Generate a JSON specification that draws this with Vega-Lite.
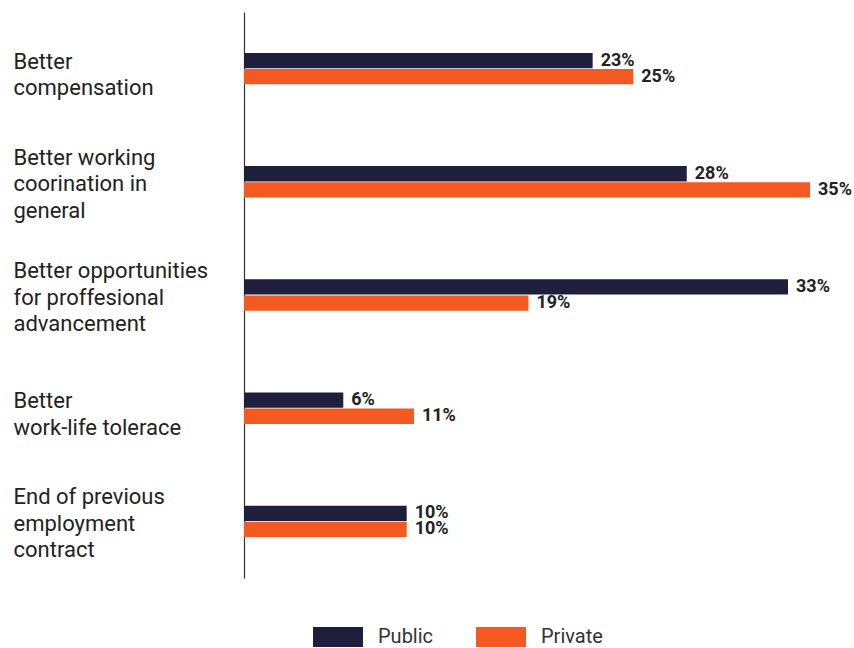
{
  "$schema": "https://vega.github.io/schema/vega-lite/v6.json",
  "width": 566,
  "height": 566,
  "autosize": {"type": "none"},
  "padding": {"left": 244, "top": 12, "right": 44, "bottom": 70},
  "background": "white",
  "config": {
    "view": {"stroke": null},
    "font": "Roboto"
  },
  "data": {
    "values": [
      {"reason": "Better|compensation", "sector": "Public", "value": 21.56, "label": "23%"},
      {"reason": "Better|compensation", "sector": "Private", "value": 24.07, "label": "25%"},
      {"reason": "Better working|coorination in|general", "sector": "Public", "value": 27.38, "label": "28%"},
      {"reason": "Better working|coorination in|general", "sector": "Private", "value": 35.0, "label": "35%"},
      {"reason": "Better opportunities|for proffesional|advancement", "sector": "Public", "value": 33.64, "label": "33%"},
      {"reason": "Better opportunities|for proffesional|advancement", "sector": "Private", "value": 17.59, "label": "19%"},
      {"reason": "Better|work-life tolerace", "sector": "Public", "value": 6.14, "label": "6%"},
      {"reason": "Better|work-life tolerace", "sector": "Private", "value": 10.51, "label": "11%"},
      {"reason": "End of previous|employment|contract", "sector": "Public", "value": 10.06, "label": "10%"},
      {"reason": "End of previous|employment|contract", "sector": "Private", "value": 10.06, "label": "10%"}
    ]
  },
  "encoding": {
    "y": {
      "field": "reason",
      "type": "nominal",
      "sort": null,
      "scale": {"paddingInner": 0.723, "paddingOuter": 0.3615},
      "axis": {
        "title": null,
        "ticks": false,
        "domain": true,
        "domainColor": "#333333",
        "domainWidth": 1.2,
        "labelAlign": "left",
        "labelBaseline": "middle",
        "labelPadding": 231,
        "labelOffset": {"condition": {"test": "length(split(datum.value, '|')) > 2", "value": -24}, "value": -7},
        "labelFont": "Roboto",
        "labelFontSize": 22,
        "labelLineHeight": 26.5,
        "labelColor": "#222222",
        "labelLimit": 300,
        "labelExpr": "split(datum.label, '|')"
      }
    },
    "yOffset": {
      "field": "sector",
      "type": "nominal",
      "sort": ["Public", "Private"],
      "scale": {"paddingInner": 0.05}
    },
    "x": {
      "field": "value",
      "type": "quantitative",
      "scale": {"domain": [0, 35], "nice": false},
      "axis": null
    }
  },
  "layer": [
    {
      "mark": {"type": "bar", "clip": false},
      "encoding": {
        "color": {
          "field": "sector",
          "type": "nominal",
          "sort": ["Public", "Private"],
          "scale": {"domain": ["Public", "Private"], "range": ["#1e1f3c", "#f25a22"]},
          "legend": {
            "title": null,
            "orient": "none",
            "direction": "horizontal",
            "legendX": 69,
            "legendY": 600,
            "symbolType": "M-1,-0.4H1V0.4H-1Z",
            "symbolSize": 2500,
            "symbolStrokeWidth": 0,
            "labelFont": "Roboto",
            "labelFontSize": 20,
            "labelColor": "#333333",
            "labelOffset": 15,
            "columnPadding": 42,
            "padding": 0
          }
        }
      }
    },
    {
      "mark": {"type": "text", "align": "left", "baseline": "middle", "dx": 8, "fontWeight": "bold", "fontSize": 18, "color": "#222222", "clip": false},
      "encoding": {
        "text": {"field": "label"}
      }
    }
  ]
}
